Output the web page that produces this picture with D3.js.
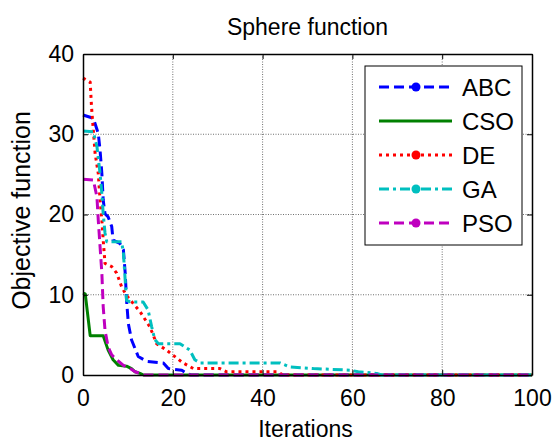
<!DOCTYPE html>
<html>
<head>
<meta charset="utf-8">
<script src="https://cdn.jsdelivr.net/npm/d3@7"></script>
<style>
  html, body { margin: 0; padding: 0; background: #fff; }
  svg { display: block; }
  text { font-family: "Liberation Sans", Arial, Helvetica, sans-serif; fill: #000; }
</style>
</head>
<body>
<svg id="chart" width="556" height="441"></svg>
<script>
// ---- data ----
const seriesNames = ["ABC", "CSO", "DE", "GA", "PSO"];
const xTicks = [0, 20, 40, 60, 80, 100];
const yTicks = [0, 10, 20, 30, 40];

const abcIter = [0, 2.3, 3.4, 3.8, 4.2, 4.5, 4.9, 5.6, 6.4, 6.7, 8.2, 9.0, 9.4, 9.7, 10.1, 10.8, 12.3, 14.2, 17.9, 19.0, 22.0, 23.1, 24, 100];
const abcVal  = [32.4, 32.0, 30.1, 28.0, 25.1, 21.8, 20.1, 19.7, 18.5, 16.8, 16.4, 15.6, 12.7, 9.3, 6.4, 4.4, 2.3, 1.7, 1.5, 0.8, 0.6, 0.2, 0, 0];

const csoIter = [0, 0.5, 1.6, 4.5, 5.6, 6.7, 7.9, 9.7, 10.8, 11.6, 12.7, 13.5, 100];
const csoVal  = [10.2, 10.1, 4.9, 4.9, 3.1, 1.9, 1.2, 1.1, 0.8, 0.4, 0.2, 0, 0];

const deIter = [0, 1.6, 1.9, 2.3, 2.7, 3.4, 3.8, 4.2, 4.5, 4.9, 6.4, 7.5, 8.6, 9.7, 12.7, 14.9, 16.4, 18.6, 20.9, 22.3, 24.6, 30.5, 32.0, 43.4, 44.5, 100];
const deVal  = [37.0, 36.5, 33.4, 30.5, 27.6, 25.1, 21.8, 19.3, 16.8, 13.9, 13.5, 12.7, 11.0, 9.9, 7.9, 6.0, 3.9, 3.1, 2.1, 1.5, 0.8, 0.8, 0.4, 0.4, 0, 0];

const gaIter = [0, 2.3, 3.1, 3.8, 4.2, 4.5, 4.9, 5.3, 8.6, 9.0, 9.4, 9.7, 10.5, 13.4, 14.5, 15.3, 16.0, 16.8, 21.6, 23.8, 24.9, 26.1, 43.9, 46.1, 51.3, 59.5, 61.3, 65.4, 66.5, 100];
const gaVal  = [30.4, 30.3, 28.5, 25.1, 22.6, 20.1, 17.7, 16.6, 16.6, 15.2, 11.8, 9.3, 9.1, 9.1, 8.1, 6.0, 4.4, 3.9, 3.9, 3.1, 1.9, 1.5, 1.5, 1.0, 0.8, 0.6, 0.4, 0.2, 0, 0];

const psoIter = [0, 2.3, 3.1, 3.4, 3.8, 4.2, 4.5, 4.9, 5.6, 6.4, 7.5, 9.0, 10.5, 11.6, 12.7, 13.5, 100];
const psoVal  = [24.4, 24.3, 22.2, 19.3, 16.0, 12.7, 8.5, 5.6, 3.5, 2.5, 1.9, 1.2, 0.8, 0.4, 0.2, 0, 0];

const seriesIters = [abcIter, csoIter, deIter, gaIter, psoIter];
const seriesVals = [abcVal, csoVal, deVal, gaVal, psoVal];
const seriesColors = ["#0000ff", "#008000", "#ff0000", "#00bfbf", "#bf00bf"];
const seriesDash = ["10,5", null, "3,4", "10,4,3,4", "10,5"];
const seriesMarker = [true, false, true, true, true];

// ---- layout ----
const svg = d3.select("#chart");
const L = 83, R = 532, T = 54, B = 375;
const x = d3.scaleLinear().domain([0, 100]).range([L, R]);
const y = d3.scaleLinear().domain([0, 40]).range([B, T]);
const FS = 23;

// grid
const grid = svg.append("g");
xTicks.slice(1, -1).forEach(t => {
  grid.append("line").attr("x1", x(t)).attr("x2", x(t)).attr("y1", T).attr("y2", B)
    .attr("stroke", "#707070").attr("stroke-width", 1).attr("stroke-dasharray", "1,1.5");
});
yTicks.slice(1, -1).forEach(t => {
  grid.append("line").attr("x1", L).attr("x2", R).attr("y1", y(t)).attr("y2", y(t))
    .attr("stroke", "#707070").attr("stroke-width", 1).attr("stroke-dasharray", "1,1.5");
});

// series
const lineGen = d3.line().x(d => x(d[0])).y(d => y(d[1]));
const plot = svg.append("g");
seriesNames.forEach((name, i) => {
  const pts = seriesIters[i].map((it, k) => [it, seriesVals[i][k]]);
  plot.append("path").datum(pts).attr("d", lineGen)
    .attr("fill", "none").attr("stroke", seriesColors[i]).attr("stroke-width", 3)
    .attr("stroke-linejoin", "round")
    .attr("stroke-dasharray", seriesDash[i]);
});

// axes
const axB = svg.append("g").attr("transform", `translate(0,${B})`)
  .call(d3.axisBottom(x).tickValues(xTicks).tickSizeInner(-5).tickSizeOuter(0).tickPadding(15));
const axL = svg.append("g").attr("transform", `translate(${L},0)`)
  .call(d3.axisLeft(y).tickValues(yTicks).tickSizeInner(-5).tickSizeOuter(0).tickPadding(9));
const axT = svg.append("g").attr("transform", `translate(0,${T})`)
  .call(d3.axisTop(x).tickValues(xTicks).tickSizeInner(-5).tickSizeOuter(0).tickFormat(""));
const axR = svg.append("g").attr("transform", `translate(${R},0)`)
  .call(d3.axisRight(y).tickValues(yTicks).tickSizeInner(-5).tickSizeOuter(0).tickFormat(""));
[axB, axL, axT, axR].forEach(a => {
  a.select(".domain").attr("stroke", "#000").attr("stroke-width", 1.5);
  a.selectAll(".tick line").attr("stroke", "#000").attr("stroke-width", 1);
  a.selectAll(".tick text").attr("font-size", FS).attr("font-family", "Liberation Sans, Arial, sans-serif").attr("fill", "#000");
});
axB.selectAll(".tick text").attr("dy", "0.71em");

// title and labels
svg.append("text").attr("x", (L + R) / 2).attr("y", 35).attr("text-anchor", "middle")
  .attr("font-size", FS).text("Sphere function");
svg.append("text").attr("x", (L + R) / 2 - 2).attr("y", 437).attr("text-anchor", "middle")
  .attr("font-size", FS).text("Iterations");
svg.append("text").attr("transform", `translate(30,${(T + B) / 2 - 4}) rotate(-90)`)
  .attr("text-anchor", "middle").attr("font-size", 25).text("Objective function");

// legend
const lg = svg.append("g");
lg.append("rect").attr("x", 365).attr("y", 66).attr("width", 157).attr("height", 179)
  .attr("fill", "#fff").attr("stroke", "#000").attr("stroke-width", 1);
const legendY = d3.scalePoint().domain(seriesNames).range([87, 223]);
seriesNames.forEach((name, i) => {
  const yy = legendY(name);
  lg.append("line").attr("x1", 379).attr("x2", 452).attr("y1", yy).attr("y2", yy)
    .attr("stroke", seriesColors[i]).attr("stroke-width", 3).attr("stroke-dasharray", seriesDash[i]);
  if (seriesMarker[i]) {
    lg.append("circle").attr("cx", 416).attr("cy", yy).attr("r", 4.5).attr("fill", seriesColors[i]);
  }
  lg.append("text").attr("x", 462).attr("y", yy).attr("dy", "0.36em")
    .attr("font-size", 24).text(name);
});
</script>
</body>
</html>
